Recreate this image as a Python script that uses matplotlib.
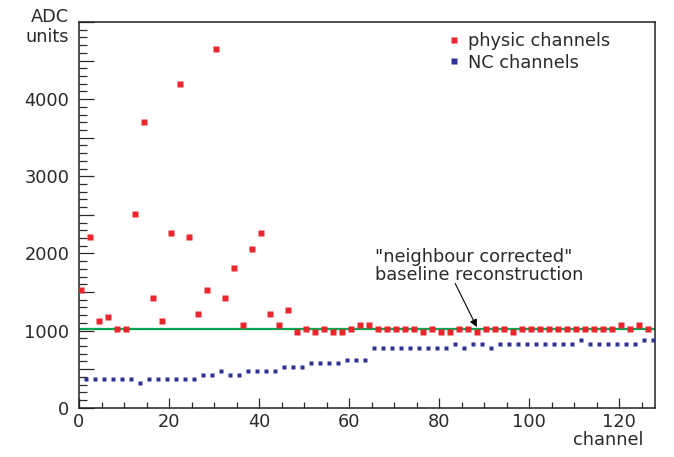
import matplotlib
matplotlib.use("Agg")
import matplotlib.pyplot as plt
from matplotlib.ticker import MultipleLocator, FuncFormatter
from matplotlib.lines import Line2D

plt.rcParams['font.family'] = ['DejaVu Sans']

# ---- data ----
phys_channels = [0.5 + 2 * i for i in range(64)]
phys_values = [1524, 2214, 1120, 1171, 1017, 1017, 2510, 3707, 1416, 1120,
               2263, 4196, 2214, 1219, 1524, 4646, 1416, 1812, 1068, 2058,
               2263, 1219, 1068, 1270, 978, 1017, 978, 1017, 978, 978,
               1017, 1068, 1068, 1017, 1017, 1017, 1017, 1017, 978, 1017,
               978, 978, 1017, 1017, 978, 1017, 1017, 1017, 978, 1017,
               1017, 1017, 1017, 1017, 1017, 1017, 1017, 1017, 1017, 1017,
               1068, 1017, 1068, 1017]

nc_channels = [1.5 + 2 * i for i in range(64)]
nc_values = [373, 373, 373, 373, 373, 373, 322, 373, 373, 373,
             373, 373, 373, 425, 425, 476, 425, 425, 476, 476,
             476, 476, 528, 528, 528, 579, 579, 579, 579, 618,
             618, 618, 772, 772, 772, 772, 772, 772, 772, 772,
             772, 824, 772, 824, 824, 772, 824, 824, 824, 824,
             824, 824, 824, 824, 824, 875, 824, 824, 824, 824,
             824, 824, 875, 875]

baseline_level = 1025
x_limits = (0, 128)
y_limits = (0, 5000)
y_labelled = [0, 1000, 2000, 3000, 4000]

RED = '#E8262B'
BLUE = '#2E3192'
GREEN = '#00A651'
TXT = '#2a2a2a'
FS = 12.8

W, H = 674, 457
fig = plt.figure(figsize=(W / 100, H / 100), dpi=100)
L, R, T, B = 79, 655, 22, 407.7
ax = fig.add_axes([L / W, 1 - B / H, (R - L) / W, (B - T) / H])

ax.axhline(baseline_level, color=GREEN, lw=1.6, zorder=2)
ax.plot(phys_channels, phys_values, ls='none', marker='s', ms=3.7,
        mec='none', mfc=RED, zorder=3, clip_on=True)
ax.plot(nc_channels, nc_values, ls='none', marker='s', ms=3.5,
        mec='none', mfc=BLUE, zorder=3, clip_on=True)

ax.set_xlim(*x_limits)
ax.set_ylim(*y_limits)

ax.xaxis.set_major_locator(MultipleLocator(20))
ax.xaxis.set_minor_locator(MultipleLocator(5))
ax.yaxis.set_major_locator(MultipleLocator(500))
ax.yaxis.set_minor_locator(MultipleLocator(100))
ax.yaxis.set_major_formatter(FuncFormatter(
    lambda v, p: f"{int(round(v))}" if int(round(v)) in y_labelled else ""))

ax.tick_params(axis='both', which='both', direction='in', top=False,
               right=False, labelsize=FS, colors=TXT, width=0.9)
ax.tick_params(axis='y', which='major', length=11, pad=7)
ax.tick_params(axis='y', which='minor', length=6)
ax.tick_params(axis='x', which='major', length=7, pad=4)
ax.tick_params(axis='x', which='minor', length=4)
for s in ax.spines.values():
    s.set_linewidth(1.1)
    s.set_color('#222222')

# axis titles
fig.text(69 / W, 1 - 17 / H, "ADC", ha='right', va='center',
         fontsize=FS, color=TXT)
fig.text(69 / W, 1 - 37 / H, "units", ha='right', va='center',
         fontsize=FS, color=TXT)
fig.text(643 / W, 1 - 440 / H, "channel", ha='right', va='center',
         fontsize=FS, color=TXT)

# legend
handles = [Line2D([], [], ls='none', marker='s', ms=4.5, mec='none', mfc=RED),
           Line2D([], [], ls='none', marker='s', ms=4.5, mec='none', mfc=BLUE)]
ax.legend(handles, ["physic channels", "NC channels"], loc='upper left',
          bbox_to_anchor=((449 - L) / (R - L), (B - 32) / (B - T)),
          frameon=False, fontsize=FS, handlelength=0.6, handletextpad=0.45,
          borderpad=0, borderaxespad=0, labelspacing=0.2,
          labelcolor=TXT)

# annotation
ax.text(65.8, 1843, "\"neighbour corrected\"\nbaseline reconstruction",
        ha='left', va='center', fontsize=FS, color=TXT, linespacing=1.0)
ax.annotate('', xy=(88.4, 1045), xytext=(83.6, 1610),
            arrowprops=dict(arrowstyle='-|>', color='black', lw=0.8,
                            mutation_scale=11, shrinkA=0, shrinkB=0))

fig.savefig("out.png", dpi=100)
